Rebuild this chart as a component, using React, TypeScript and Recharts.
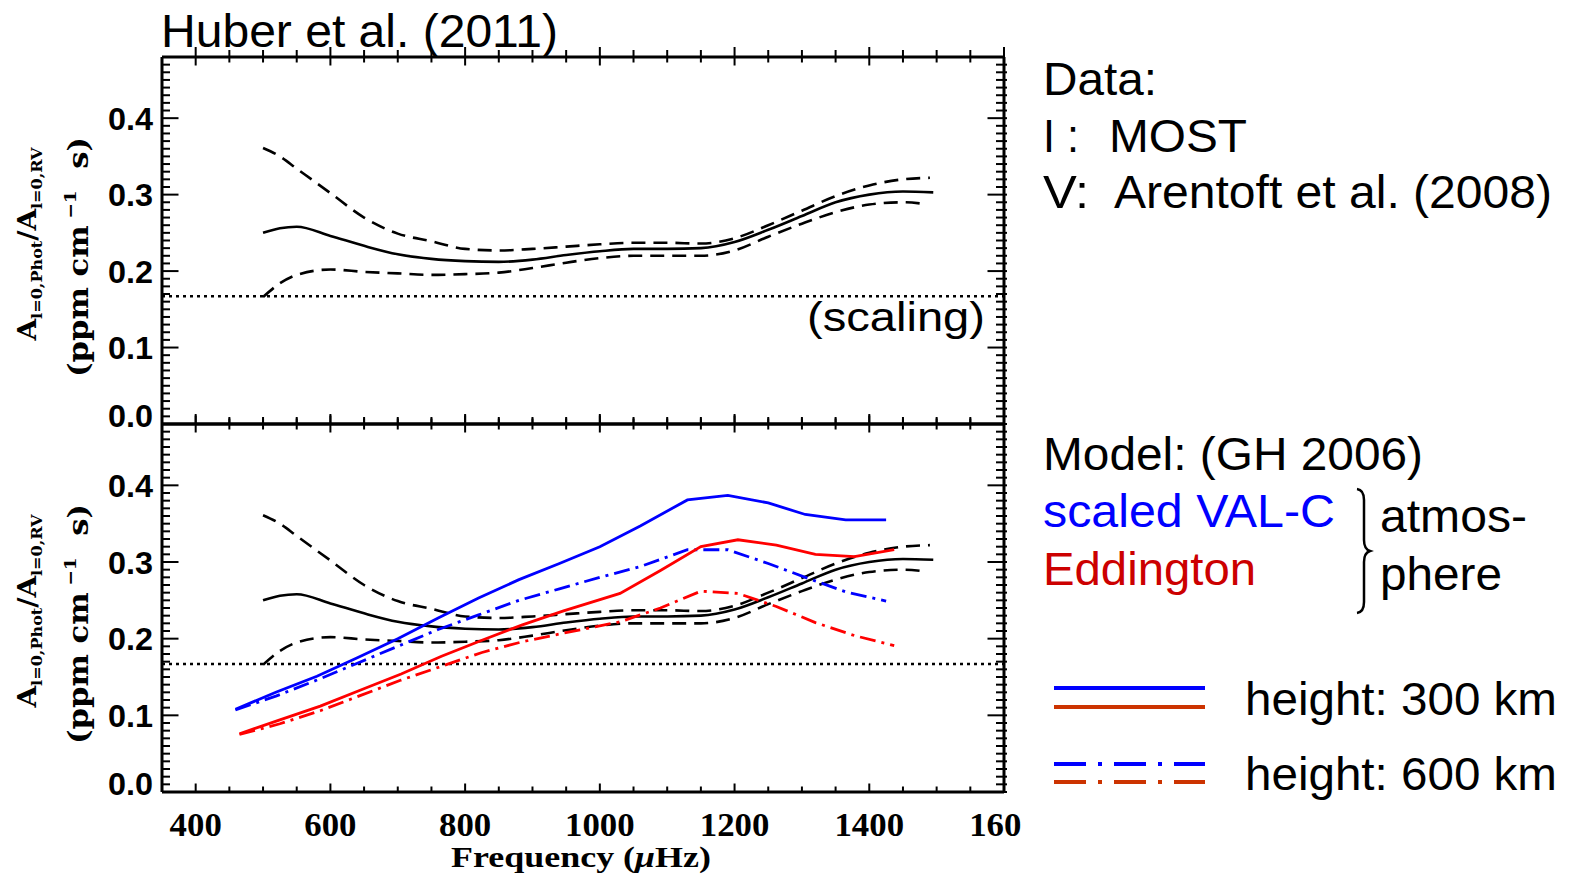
import React from 'react';
import { LineChart, Line, XAxis, YAxis, ReferenceLine } from 'recharts';

// ---------- data ----------
const blackFreq = [500, 525, 550, 600, 650, 700, 750, 800, 850, 900, 950, 1000, 1050, 1100, 1150, 1200, 1250, 1300, 1350, 1400, 1450, 1495];
const blackMean = [0.25, 0.256, 0.258, 0.246, 0.233, 0.222, 0.216, 0.213, 0.212, 0.215, 0.221, 0.226, 0.229, 0.229, 0.23, 0.238, 0.254, 0.272, 0.29, 0.3, 0.304, 0.303];
const upperFreq = [500, 525, 550, 600, 650, 700, 750, 800, 850, 900, 950, 1000, 1050, 1100, 1150, 1200, 1250, 1300, 1350, 1400, 1450, 1490];
const blackUpper = [0.361, 0.35, 0.334, 0.302, 0.27, 0.249, 0.239, 0.229, 0.227, 0.229, 0.232, 0.235, 0.237, 0.237, 0.236, 0.243, 0.26, 0.279, 0.298, 0.312, 0.32, 0.322];
const lowerFreq = [500, 525, 550, 600, 650, 700, 750, 800, 850, 900, 950, 1000, 1050, 1100, 1150, 1200, 1250, 1300, 1350, 1400, 1450, 1480];
const blackLower = [0.166, 0.184, 0.195, 0.202, 0.199, 0.197, 0.195, 0.196, 0.198, 0.204, 0.211, 0.217, 0.22, 0.22, 0.22, 0.227, 0.245, 0.262, 0.277, 0.287, 0.29, 0.288];

const valcFreq = [459, 519, 580, 640, 700, 760, 820, 880, 940, 1000, 1060, 1130, 1190, 1250, 1305, 1365, 1425];
const valc300 = [0.108, 0.13, 0.151, 0.175, 0.2, 0.227, 0.253, 0.277, 0.298, 0.32, 0.347, 0.381, 0.387, 0.377, 0.362, 0.355, 0.355];
const valc600 = [0.107, 0.125, 0.146, 0.168, 0.19, 0.212, 0.231, 0.25, 0.265, 0.28, 0.294, 0.316, 0.316, 0.298, 0.28, 0.261, 0.249];

const eddFreq = [465, 525, 585, 645, 705, 765, 825, 885, 945, 1030, 1090, 1150, 1205, 1262, 1320, 1378, 1437];
const edd300 = [0.076, 0.094, 0.112, 0.133, 0.154, 0.177, 0.198, 0.218, 0.236, 0.259, 0.289, 0.32, 0.329, 0.322, 0.31, 0.307, 0.316];
const edd600 = [0.075, 0.089, 0.106, 0.126, 0.146, 0.164, 0.182, 0.196, 0.207, 0.222, 0.24, 0.262, 0.259, 0.242, 0.221, 0.204, 0.191];

const SCALING = 0.167;

const X_MAJOR = [400, 600, 800, 1000, 1200, 1400, 1600];
const X_LABELS = ['400', '600', '800', '1000', '1200', '1400', '1600'];
const X_MINOR = Array.from({ length: 25 }, (_, i) => 400 + i * 50).filter((v) => v % 200 !== 0);
const Y_MAJOR = [0, 0.1, 0.2, 0.3, 0.4];
const Y_LABELS = ['0.0', '0.1', '0.2', '0.3', '0.4'];
const Y_MINOR = Array.from({ length: 48 }, (_, i) => i).filter((i) => i % 10 !== 0).map((i) => i / 100);

const toPts = (f: number[], v: number[]) => f.map((x, i) => ({ f: x, v: v[i] }));

// ---------- layout ----------
const LEFT = 162;
const RIGHT = 1004;
const W = 1577;
const TINY = 0.001;

const SANS = 'Liberation Sans, Arial, sans-serif';
const SERIF = 'Liberation Serif, DejaVu Serif, serif';

// ---------- tick renderers ----------
const xTick = (pos: 'top' | 'bottom', major: boolean, labels: boolean) => (props: any) => {
  const { x, y, payload } = props;
  const inLen = major ? 8.5 : 5.5;
  const outLen = pos === 'top' ? (major ? 10 : 7) : 0;
  const d = pos === 'bottom' ? -1 : 1;
  const idx = X_MAJOR.indexOf(payload.value);
  return (
    <g>
      <line x1={x} x2={x} y1={y - d * outLen} y2={y + d * inLen} stroke="#000" strokeWidth={2} />
      {labels && idx >= 0 && (
        <g clipPath="url(#xlabclip)">
          <text
            x={x}
            y={y + 44}
            textAnchor="middle"
            fontFamily={SERIF}
            fontWeight="bold"
            fontSize={34}
            textLength={X_LABELS[idx].length * 17.4}
            lengthAdjust="spacingAndGlyphs"
            fill="#000"
          >
            {X_LABELS[idx]}
          </text>
        </g>
      )}
    </g>
  );
};

const yTick = (side: 'left' | 'right', major: boolean, labels: boolean) => (props: any) => {
  const { x, y, payload } = props;
  const d = side === 'left' ? 1 : -1;
  const inLen = major ? 16.5 : 8;
  const outLen = side === 'right' ? 3 : 0;
  const idx = Y_MAJOR.indexOf(payload.value);
  return (
    <g>
      <line x1={x - d * outLen} x2={x + d * inLen} y1={y} y2={y} stroke="#000" strokeWidth={2} />
      {labels && idx >= 0 && (
        <text
          x={x - 9}
          y={(payload.value === 0 ? y - 8 : y) + 11.5}
          textAnchor="end"
          fontFamily={SANS}
          fontWeight="bold"
          fontSize={32}
          textLength={45}
          lengthAdjust="spacingAndGlyphs"
          fill="#000"
        >
          {Y_LABELS[idx]}
        </text>
      )}
    </g>
  );
};

const AX = { stroke: '#000', strokeWidth: 3 };

type PanelProps = { top: number; height: number; mt: number; mb: number; model: boolean; labels: boolean };

function Panel({ top, height, mt, mb, model, labels }: PanelProps) {
  const common = { type: 'number' as const, tickSize: 0, tickMargin: 0, tickLine: false, interval: 0 as const, allowDataOverflow: true };
  return (
    <div style={{ position: 'absolute', left: 0, top }}>
      <LineChart width={W} height={height} margin={{ top: mt, right: W - RIGHT, bottom: mb, left: LEFT }}>
        <defs>
          <clipPath id="xlabclip">
            <rect x={0} y={0} width={1021} height={height} />
          </clipPath>
        </defs>
        <XAxis xAxisId="b" dataKey="f" domain={[350, 1600]} ticks={X_MAJOR} orientation="bottom" height={TINY} axisLine={AX} tick={xTick('bottom', true, labels)} {...common} />
        <XAxis xAxisId="bm" dataKey="f" domain={[350, 1600]} ticks={X_MINOR} orientation="bottom" height={TINY} axisLine={false} tick={xTick('bottom', false, false)} {...common} />
        <XAxis xAxisId="t" dataKey="f" domain={[350, 1600]} ticks={X_MAJOR} orientation="top" height={TINY} axisLine={AX} tick={xTick('top', true, false)} {...common} />
        <XAxis xAxisId="tm" dataKey="f" domain={[350, 1600]} ticks={X_MINOR} orientation="top" height={TINY} axisLine={false} tick={xTick('top', false, false)} {...common} />
        <YAxis yAxisId="l" domain={[0, 0.48]} ticks={Y_MAJOR} orientation="left" width={TINY} axisLine={AX} tick={yTick('left', true, true)} {...common} />
        <YAxis yAxisId="lm" domain={[0, 0.48]} ticks={Y_MINOR} orientation="left" width={TINY} axisLine={false} tick={yTick('left', false, false)} {...common} />
        <YAxis yAxisId="r" domain={[0, 0.48]} ticks={Y_MAJOR} orientation="right" width={TINY} axisLine={AX} tick={yTick('right', true, false)} {...common} />
        <YAxis yAxisId="rm" domain={[0, 0.48]} ticks={Y_MINOR} orientation="right" width={TINY} axisLine={false} tick={yTick('right', false, false)} {...common} />
        <ReferenceLine xAxisId="b" yAxisId="l" y={SCALING} stroke="#000" strokeWidth={2.5} strokeDasharray="3 4" />
        <Line xAxisId="b" yAxisId="l" data={toPts(blackFreq, blackMean)} dataKey="v" type="monotone" stroke="#000" strokeWidth={2.6} dot={false} activeDot={false} isAnimationActive={false} />
        <Line xAxisId="b" yAxisId="l" data={toPts(upperFreq, blackUpper)} dataKey="v" type="monotone" stroke="#000" strokeWidth={2.6} strokeDasharray="14 8" dot={false} activeDot={false} isAnimationActive={false} />
        <Line xAxisId="b" yAxisId="l" data={toPts(lowerFreq, blackLower)} dataKey="v" type="monotone" stroke="#000" strokeWidth={2.6} strokeDasharray="14 8" dot={false} activeDot={false} isAnimationActive={false} />
        {model && (
          <Line xAxisId="b" yAxisId="l" data={toPts(valcFreq, valc300)} dataKey="v" type="linear" stroke="#0000ff" strokeWidth={2.8} dot={false} activeDot={false} isAnimationActive={false} />
        )}
        {model && (
          <Line xAxisId="b" yAxisId="l" data={toPts(valcFreq, valc600)} dataKey="v" type="linear" stroke="#0000ff" strokeWidth={2.8} strokeDasharray="16 6 3 6" dot={false} activeDot={false} isAnimationActive={false} />
        )}
        {model && (
          <Line xAxisId="b" yAxisId="l" data={toPts(eddFreq, edd300)} dataKey="v" type="linear" stroke="#ff0000" strokeWidth={2.8} dot={false} activeDot={false} isAnimationActive={false} />
        )}
        {model && (
          <Line xAxisId="b" yAxisId="l" data={toPts(eddFreq, edd600)} dataKey="v" type="linear" stroke="#ff0000" strokeWidth={2.8} strokeDasharray="16 6 3 6" dot={false} activeDot={false} isAnimationActive={false} />
        )}
      </LineChart>
    </div>
  );
}

function YLabel({ off }: { off: number }) {
  return (
    <g>
      <text
        transform={`translate(36, ${244 + off}) rotate(-90)`}
        textAnchor="middle"
        fontFamily="DejaVu Serif, serif"
        fontWeight="bold"
        fontSize={26}
        textLength={193}
        lengthAdjust="spacingAndGlyphs"
        fill="#000"
      >
        A<tspan fontSize={15} dy={6}>l=0,Phot</tspan>
        <tspan dy={-6}>/A</tspan>
        <tspan fontSize={15} dy={6}>l=0,RV</tspan>
      </text>
      <text
        transform={`translate(88, ${257 + off}) rotate(-90)`}
        textAnchor="middle"
        fontFamily="DejaVu Serif, serif"
        fontWeight="bold"
        fontSize={28}
        textLength={240}
        lengthAdjust="spacingAndGlyphs"
        fill="#000"
      >
        (ppm cm
        <tspan fontSize={17} dy={-12}>{'\u00a0\u2212'}1</tspan>
        <tspan dy={12}>{'\u00a0\u00a0'}s)</tspan>
      </text>
    </g>
  );
}

function T({ x, y, w, children, fill = '#000', size = 46 }: any) {
  return (
    <text x={x} y={y} fontFamily={SANS} fontSize={size} textLength={w} lengthAdjust="spacingAndGlyphs" fill={fill}>
      {children}
    </text>
  );
}

export default function App() {
  return (
    <div style={{ position: 'fixed', left: 0, top: 0, width: W, height: 877, background: '#fff', overflow: 'hidden' }}>
      <Panel top={0} height={440} mt={57} mb={16} model={false} labels={false} />
      <Panel top={408} height={469} mt={16} mb={85} model={true} labels={true} />
      <svg width={W} height={877} style={{ position: 'absolute', left: 0, top: 0, pointerEvents: 'none' }}>
        <T x={161} y={47} w={397} size={47}>Huber et al. (2011)</T>
        <YLabel off={0} />
        <YLabel off={367} />
        <text x={581} y={867} textAnchor="middle" fontFamily={SERIF} fontWeight="bold" fontSize={30} textLength={260} lengthAdjust="spacingAndGlyphs" fill="#000">
          Frequency (<tspan fontStyle="italic">μ</tspan>Hz)
        </text>
        <T x={807} y={331} w={178} size={40}>(scaling)</T>

        <T x={1043} y={95} w={114}>Data:</T>
        <T x={1043} y={152} w={36}>I :</T>
        <T x={1109} y={152} w={138}>MOST</T>
        <T x={1043} y={208} w={46}>V:</T>
        <T x={1114} y={208} w={438}>Arentoft et al. (2008)</T>

        <T x={1043} y={470} w={380}>Model: (GH 2006)</T>
        <T x={1043} y={527} w={292} fill="#0000ff">scaled VAL-C</T>
        <T x={1043} y={585} w={213} fill="#cc0000">Eddington</T>
        <path
          d="M 1357 489 Q 1364 490 1364 500 L 1364 540 Q 1364 549 1370 551 Q 1364 553 1364 562 L 1364 602 Q 1364 612 1357 613"
          fill="none"
          stroke="#000"
          strokeWidth={2.5}
        />
        <T x={1380} y={532} w={147}>atmos-</T>
        <T x={1380} y={590} w={122}>phere</T>

        <line x1={1054} x2={1205} y1={688} y2={688} stroke="#0000ff" strokeWidth={4} />
        <line x1={1054} x2={1205} y1={707} y2={707} stroke="#cc3300" strokeWidth={4} />
        <line x1={1054} x2={1205} y1={764} y2={764} stroke="#0000ff" strokeWidth={4} strokeDasharray="32 12 4 12" />
        <line x1={1054} x2={1205} y1={782} y2={782} stroke="#cc3300" strokeWidth={4} strokeDasharray="32 12 4 12" />
        <T x={1245} y={715} w={312}>height: 300 km</T>
        <T x={1245} y={790} w={312}>height: 600 km</T>
      </svg>
    </div>
  );
}
